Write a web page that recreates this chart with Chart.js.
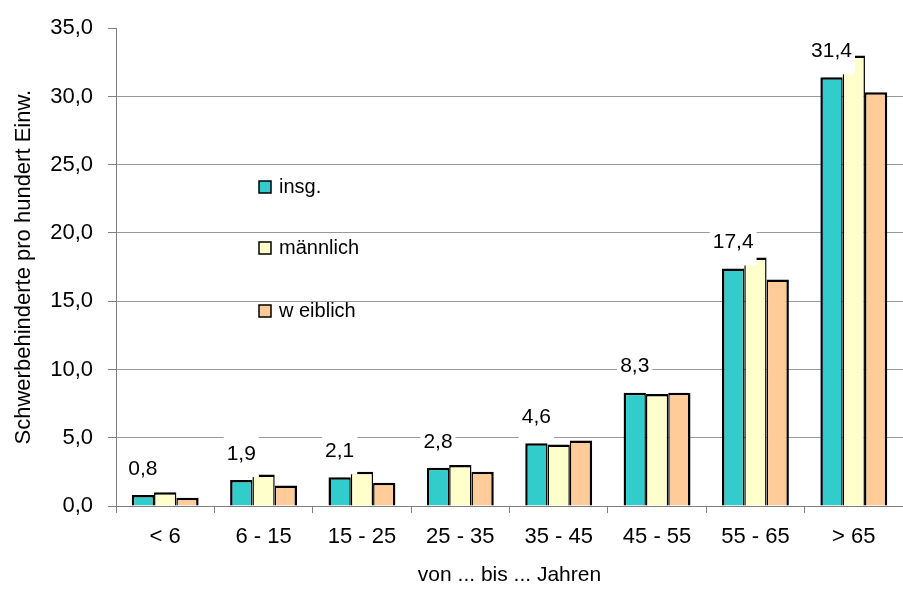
<!DOCTYPE html>
<html>
<head>
<meta charset="utf-8">
<script src="https://cdn.jsdelivr.net/npm/chart.js@4/dist/chart.umd.min.js"></script>
<style>
  html, body { margin: 0; padding: 0; background: #fff; }
  #wrap { width: 903px; height: 589px; }
</style>
</head>
<body>
<div id="wrap"><canvas id="c" width="903" height="589"></canvas></div>
<script>
const categories = ['< 6', '6 - 15', '15 - 25', '25 - 35', '35 - 45', '45 - 55', '55 - 65', '> 65'];
const insg      = [0.8, 1.9, 2.1, 2.8, 4.6, 8.3, 17.4, 31.4];
const maennlich = [1.0, 2.3, 2.5, 3.0, 4.5, 8.2, 18.2, 33.0];
const weiblich  = [0.6, 1.5, 1.7, 2.5, 4.8, 8.3, 16.6, 30.3];
const seriesNames = ['insg.', 'männlich', 'w eiblich'];
const yTitle = 'Schwerbehinderte pro hundert Einw.';
const xTitle = 'von ... bis ... Jahren';

const FONT = "'Liberation Sans', Arial, sans-serif";
const fmt = v => v.toFixed(1).replace('.', ',');

const valueLabels = {
  id: 'valueLabels',
  afterDatasetsDraw(chart) {
    const ctx = chart.ctx;
    const meta = chart.getDatasetMeta(0);
    const data = chart.data.datasets[0].data;
    ctx.save();
    ctx.font = '21px ' + FONT;
    ctx.textAlign = 'center';
    ctx.textBaseline = 'middle';
    meta.data.forEach((bar, i) => {
      const txt = fmt(data[i]);
      const w = ctx.measureText(txt).width + 6;
      const top = bar.y;
      const cy = top - 26;
      ctx.fillStyle = '#ffffff';
      ctx.fillRect(bar.x - w / 2, top - 44, w, 41);
      ctx.fillStyle = '#000000';
      ctx.fillText(txt, bar.x, cy);
    });
    ctx.restore();
  }
};

const customLegend = {
  id: 'customLegend',
  afterDraw(chart) {
    const ctx = chart.ctx;
    const ys = [187, 248, 311];
    ctx.save();
    ctx.font = '20px ' + FONT;
    ctx.textBaseline = 'middle';
    ctx.textAlign = 'left';
    chart.data.datasets.forEach((ds, i) => {
      const y = ys[i];
      ctx.fillStyle = ds.backgroundColor;
      ctx.fillRect(259, y - 6, 12, 12);
      ctx.strokeStyle = '#000';
      ctx.lineWidth = 1.5;
      ctx.strokeRect(259, y - 6, 12, 12);
      ctx.fillStyle = '#000';
      ctx.fillText(ds.label, 279, y);
    });
    ctx.restore();
  }
};

new Chart(document.getElementById('c'), {
  type: 'bar',
  data: {
    labels: categories,
    datasets: [
      { label: seriesNames[0], data: insg, backgroundColor: '#33CCCC',
        borderWidth: { top: 2.5, left: 2.5, right: 1.5, bottom: 0 } },
      { label: seriesNames[1], data: maennlich, backgroundColor: '#FFFFCC',
        borderWidth: { top: 2.5, left: 1.5, right: 1.5, bottom: 0 } },
      { label: seriesNames[2], data: weiblich, backgroundColor: '#FFCC99',
        borderWidth: { top: 2.5, left: 1.5, right: 2.5, bottom: 0 } }
    ]
  },
  options: {
    responsive: false,
    animation: false,
    devicePixelRatio: 1,
    layout: { padding: { top: 22, left: 0, right: 0, bottom: 0 } },
    datasets: {
      bar: {
        borderColor: '#000000',
        borderSkipped: false,
        barPercentage: 1.0,
        categoryPercentage: 0.68
      }
    },
    plugins: {
      legend: { display: false },
      tooltip: { enabled: false }
    },
    scales: {
      x: {
        afterFit(s) { s.height = 83; },
        grid: {
          offset: true,
          drawOnChartArea: false,
          drawTicks: true,
          tickLength: 7,
          tickColor: '#808080',
          tickWidth: 1
        },
        border: { display: true, color: '#808080', width: 1 },
        ticks: {
          color: '#000',
          padding: 11,
          maxRotation: 0,
          autoSkip: false,
          font: { family: FONT, size: 22 }
        },
        title: {
          display: true,
          text: xTitle,
          color: '#000',
          font: { family: FONT, size: 21 },
          padding: { top: 0, bottom: 1 }
        }
      },
      y: {
        min: 0,
        max: 35,
        afterFit(s) { s.width = 116; },
        ticks: {
          stepSize: 5,
          color: '#000',
          padding: 15,
          font: { family: FONT, size: 22 },
          callback: v => fmt(v)
        },
        grid: {
          color: ctx => (ctx.tick && ctx.tick.value === 35) ? 'rgba(0,0,0,0)' : '#999999',
          lineWidth: 1,
          drawTicks: true,
          tickLength: 8,
          tickColor: '#808080'
        },
        border: { display: true, color: '#808080', width: 1 },
        title: {
          display: true,
          text: yTitle,
          color: '#000',
          font: { family: FONT, size: 22 },
          padding: { top: 11, bottom: 0 }
        }
      }
    }
  },
  plugins: [valueLabels, customLegend]
});
</script>
</body>
</html>
